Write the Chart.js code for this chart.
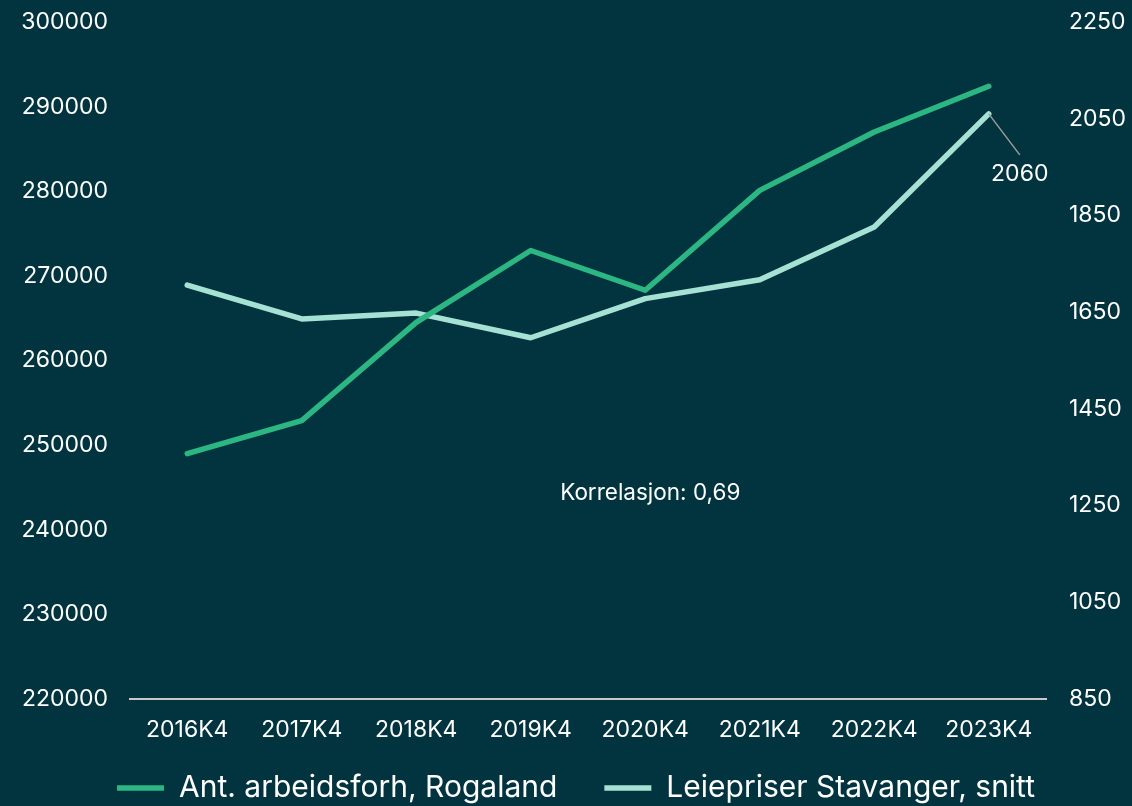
<!DOCTYPE html>
<html>
<head>
<meta charset="utf-8">
<script src="https://cdn.jsdelivr.net/npm/chart.js@4/dist/chart.umd.min.js"></script>
<style>
  html, body { margin: 0; padding: 0; background: #023440; }
  #wrap { width: 1132px; height: 806px; }
  canvas { display: block; }
</style>
</head>
<body>
<div id="wrap"><canvas id="c" width="1132" height="806"></canvas></div>
<script>
const categories = ['2016K4', '2017K4', '2018K4', '2019K4', '2020K4', '2021K4', '2022K4', '2023K4'];
const arbeidsforhold = [249000, 252900, 264500, 273000, 268300, 280100, 287000, 292400];
const leiepriser = [1706, 1636, 1648, 1597, 1678, 1717, 1826, 2060];
const seriesLabels = ['Ant. arbeidsforh, Rogaland', 'Leiepriser Stavanger, snitt'];
const correlationText = 'Korrelasjon: 0,69';

const FONT = 'Inter';
const GREEN = '#2bb682';
const MINT = '#a6e2d3';

const annotations = {
  id: 'annotations',
  afterLayout(chart) {
    // nudge the legend row to sit where the reference places it
    const lg = chart.legend;
    if (lg) {
      lg.top -= 15; lg.bottom -= 15;
      lg.left += 10; lg.right += 10;
    }
  },
  afterDatasetsDraw(chart) {
    const ctx = chart.ctx;
    const meta = chart.getDatasetMeta(1);
    const pt = meta.data[meta.data.length - 1];
    ctx.save();
    ctx.strokeStyle = '#9c9c9c';
    ctx.lineWidth = 1.5;
    ctx.beginPath();
    ctx.moveTo(pt.x, pt.y);
    ctx.lineTo(pt.x + 31, pt.y + 41);
    ctx.stroke();
    ctx.fillStyle = '#ffffff';
    ctx.font = '23px ' + FONT;
    ctx.textAlign = 'center';
    ctx.textBaseline = 'middle';
    ctx.fillText(String(leiepriser[leiepriser.length - 1]), pt.x + 31, pt.y + 60);
    const xs = chart.scales.x, yl = chart.scales.yL;
    ctx.font = '22.5px ' + FONT;
    ctx.fillText(correlationText, xs.getPixelForValue(4) + 5, yl.getPixelForValue(244300));
    ctx.restore();
  }
};

new Chart(document.getElementById('c'), {
  type: 'line',
  data: {
    labels: categories,
    datasets: [
      {
        label: seriesLabels[0],
        data: arbeidsforhold,
        yAxisID: 'yL',
        borderColor: GREEN,
        backgroundColor: GREEN,
        borderWidth: 5.5,
        borderCapStyle: 'round',
        borderJoinStyle: 'round',
        pointRadius: 0,
        tension: 0
      },
      {
        label: seriesLabels[1],
        data: leiepriser,
        yAxisID: 'yR',
        borderColor: MINT,
        backgroundColor: MINT,
        borderWidth: 5.5,
        borderCapStyle: 'round',
        borderJoinStyle: 'round',
        pointRadius: 0,
        tension: 0
      }
    ]
  },
  options: {
    responsive: false,
    animation: false,
    layout: { padding: { top: 22, left: 0, right: 0, bottom: -22 } },
    plugins: {
      legend: {
        position: 'bottom',
        align: 'center',
        labels: {
          color: '#ffffff',
          font: { family: FONT, size: 30 },
          usePointStyle: true,
          pointStyle: 'line',
          pointStyleWidth: 47,
          padding: 47
        }
      },
      tooltip: { enabled: false }
    },
    scales: {
      x: {
        offset: true,
        grid: { display: false, drawTicks: false, offset: true },
        border: { display: true, color: '#c9c9c9', width: 2 },
        ticks: { color: '#ffffff', font: { family: FONT, size: 23 }, padding: 17, maxRotation: 0 },
        afterFit(s) { s.height = 42; }
      },
      yL: {
        position: 'left',
        min: 220000,
        max: 300000,
        grid: { display: false, drawTicks: false },
        border: { display: false },
        ticks: {
          stepSize: 10000,
          color: '#ffffff',
          font: { family: FONT, size: 23 },
          padding: 22,
          callback: v => String(v)
        },
        afterFit(s) { s.width = 130; s.paddingTop = 0; s.paddingBottom = 0; }
      },
      yR: {
        position: 'right',
        min: 850,
        max: 2250,
        grid: { display: false, drawTicks: false },
        border: { display: false },
        ticks: {
          stepSize: 200,
          color: '#ffffff',
          font: { family: FONT, size: 23 },
          padding: 23,
          callback: v => String(v)
        },
        afterFit(s) { s.width = 86; s.paddingTop = 0; s.paddingBottom = 0; }
      }
    }
  },
  plugins: [annotations]
});
</script>
</body>
</html>
